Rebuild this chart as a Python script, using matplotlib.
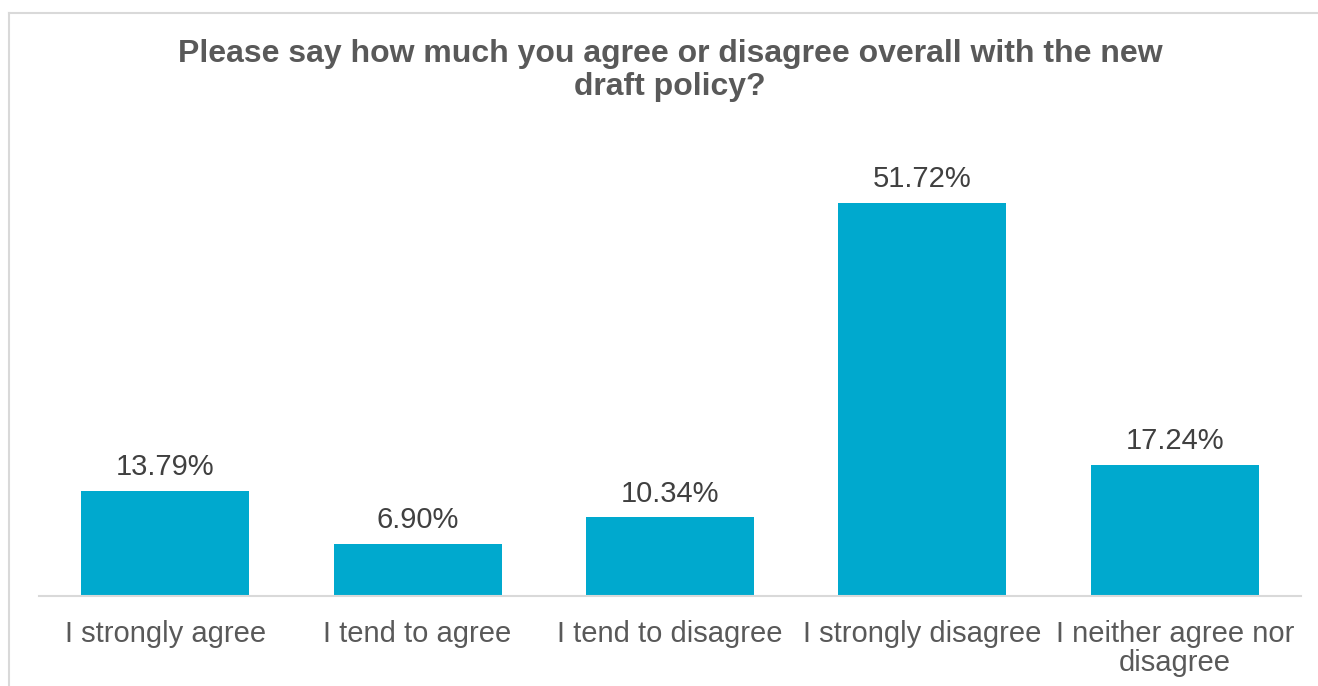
import matplotlib
matplotlib.use("Agg")
import matplotlib.pyplot as plt
from matplotlib.lines import Line2D

plt.rcParams['font.family'] = ['Liberation Sans', 'DejaVu Sans']

# data
categories = ["I strongly agree", "I tend to agree", "I tend to disagree",
              "I strongly disagree", "I neither agree nor\ndisagree"]
values = [13.79, 6.90, 10.34, 51.72, 17.24]
title = "Please say how much you agree or disagree overall with the new\ndraft policy?"

bar_color = "#00A9CE"
grid_gray = "#D9D9D9"

fig = plt.figure(figsize=(13.18, 6.86), dpi=100)
ax = fig.add_axes([39/1318, 1 - 596/686, (1301 - 39)/1318, (596 - 140)/686])

x = range(len(categories))
bars = ax.bar(x, values, width=0.665, color=bar_color, zorder=2)

for rect, v in zip(bars, values):
    ax.annotate(f"{v:.2f}%", (rect.get_x() + rect.get_width()/2, v),
                xytext=(0, 7), textcoords="offset points",
                ha="center", va="bottom", fontsize=21, color="#404040")

ax.set_xlim(-0.5, len(categories) - 0.5)
ax.set_ylim(0, 60)
ax.set_xticks(list(x))
ax.set_xticklabels(categories, fontsize=21, color="#595959", linespacing=1.05)
ax.tick_params(axis="x", length=0, pad=17)
ax.set_yticks([])
for s in ["top", "right", "left"]:
    ax.spines[s].set_visible(False)
ax.spines["bottom"].set_color(grid_gray)
ax.spines["bottom"].set_linewidth(1.5)

fig.text(670 / 1318, 1 - 39/686, title, ha="center", va="top",
         fontsize=23, fontweight="bold", color="#595959", linespacing=1.15)

# chart area border (cropped at right and bottom)
fig.add_artist(Line2D([9/1318, 9/1318], [0, 1 - 13/686], color=grid_gray, lw=1.5))
fig.add_artist(Line2D([9/1318, 1], [1 - 13/686, 1 - 13/686], color=grid_gray, lw=1.5))

fig.savefig("out.png", dpi=100, facecolor="white")
